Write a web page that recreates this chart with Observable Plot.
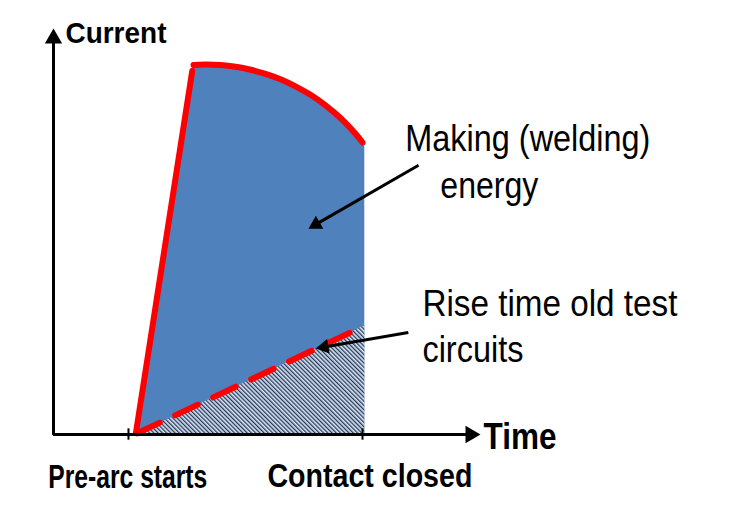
<!DOCTYPE html>
<html><head><meta charset="utf-8">
<script src="https://cdn.jsdelivr.net/npm/d3@7"></script>
<script src="https://cdn.jsdelivr.net/npm/@observablehq/plot@0.6"></script>
<style>html,body{margin:0;padding:0;background:#fff;} #chart svg{display:block;}</style>
</head><body>
<svg width="0" height="0" style="position:absolute">
  <defs>
    <pattern id="hatch" patternUnits="userSpaceOnUse" width="3" height="3" patternTransform="rotate(-45)">
      <rect width="3" height="3" fill="#dbe5f2"></rect>
      <rect width="1.3" height="3" fill="#22385a"></rect>
    </pattern>
  </defs>
</svg>
<div id="chart"></div>
<script>
// ---- data (arbitrary time / current units) ----
const riseTime = [19.3, 32.5];
const riseCurrent = [0.4, 89.6];
const arcTime = [32.79, 35.60, 39.11, 42.62, 46.14, 49.65, 53.16, 56.67, 60.19, 63.70, 67.21, 70.73, 72.37];
const arcCurrent = [91.03, 91.13, 90.99, 90.57, 89.85, 88.82, 87.49, 85.76, 83.67, 81.08, 77.96, 74.06, 71.92];
const contactTime = 72.9;
const contactCurrent = 71.2;
const oldTime = [19.4, 72.9];
const oldCurrent = [0, 26.8];
const dashTime = [19.6, 69.5];
const dashCurrent = [0.3, 25.1];
const tickTimes = [17.56, 72.37];
const tickLabels = ["Pre-arc starts", "Contact closed"];
const axisLabels = ["Current", "Time"];
const noteLabels = [["Making (welding)", "energy"], ["Rise time old test", "circuits"]];

// ---- layout ----
const W = 729, H = 520, ML = 53, MR = 249, MT = 28, MB = 86;
const X = d3.scaleLinear([0, 100], [ML, W - MR]);
const Y = d3.scaleLinear([0, 100], [H - MB, MT]);
const font = "'Liberation Sans', Arial, Helvetica, sans-serif";

const energy = [{t: oldTime[0], i: 0}]
  .concat(arcTime.map((t, k) => ({t, i: arcCurrent[k]})))
  .concat([{t: contactTime, i: contactCurrent}]);
const oldArea = oldTime.map((t, k) => ({t, i: oldCurrent[k]}));
const dash = dashTime.map((t, k) => ({t, i: dashCurrent[k]}));
const rise = riseTime.map((t, k) => ({t, i: riseCurrent[k]}));
const arc = arcTime.map((t, k) => ({t, i: arcCurrent[k]}));

function head(x0, y0, x1, y1, h) {
  const px0 = X(x0), py0 = Y(y0), px1 = X(x1), py1 = Y(y1);
  const dx = px1 - px0, dy = py1 - py0, L = Math.hypot(dx, dy);
  const ux = dx / L, uy = dy / L;
  const cx = px1 - ux * 2 * h, cy = py1 - uy * 2 * h;
  return {x: X.invert(cx), y: Y.invert(cy), rotate: Math.atan2(ux, -uy) * 180 / Math.PI, x0, y0};
}
const rOf = h => Math.sqrt(h * h * 3 * Math.sqrt(3) / Math.PI);

const axisHeads = [head(0, 0, 0, 100, 5), head(0, 0, 100, 0, 5)];
const notes = [
  {x0: 85.5, y0: 66.3, x1: 59.7, y1: 50.7},
  {x0: 83.1, y0: 25.1, x1: 61.4, y1: 21.2}
];
const noteHeads = notes.map(n => head(n.x0, n.y0, n.x1, n.y1, 4.3));

const widths = {
  "Current": 101, "Time": 73, "Pre-arc starts": 159, "Contact closed": 205,
  "Making (welding)": 245, "energy": 98, "Rise time old test": 255, "circuits": 101
};

const txt = (s, x, y, size, weight, anchor) => Plot.text([s], {
  x: () => x, y: () => y, text: d => d, textAnchor: anchor, lineAnchor: "middle",
  fontSize: size, fontWeight: weight, fontFamily: font, fill: "black"
});

const chart = Plot.plot({
  width: W, height: H,
  marginLeft: ML, marginRight: MR, marginTop: MT, marginBottom: MB,
  x: {domain: [0, 100], axis: null},
  y: {domain: [0, 100], axis: null},
  style: {background: "white", fontFamily: font, overflow: "visible"},
  marks: [
    Plot.areaY(energy, {x: "t", y: "i", fill: "#4f81bd"}),
    Plot.areaY(oldArea, {x: "t", y: "i", fill: "url(#hatch)"}),
    Plot.line(dash, {x: "t", y: "i", stroke: "#ff0000", strokeWidth: 6, strokeDasharray: "25,17"}),
    Plot.line(rise, {x: "t", y: "i", stroke: "#ff0000", strokeWidth: 6}),
    Plot.line(arc, {x: "t", y: "i", stroke: "#ff0000", strokeWidth: 6, curve: "catmull-rom"}),
    Plot.line([[0, axisHeads[0].y], [0, 0], [axisHeads[1].x, 0]], {stroke: "black", strokeWidth: 3, strokeLinejoin: "miter"}),
    Plot.ruleX(tickTimes, {x: d => d, y1: -1.4, y2: 1.4, stroke: "black", strokeWidth: 2}),
    Plot.dot(axisHeads, {x: "x", y: "y", rotate: "rotate", symbol: "triangle", r: rOf(5), fill: "black", stroke: "none"}),
    Plot.link(noteHeads, {x1: "x0", y1: "y0", x2: "x", y2: "y", stroke: "black", strokeWidth: 3}),
    Plot.dot(noteHeads, {x: "x", y: "y", rotate: "rotate", symbol: "triangle", r: rOf(4.3), fill: "black", stroke: "none"}),
    txt(axisLabels[0], 2.8, 98.8, 30, "bold", "start"),
    txt(axisLabels[1], 100.7, -0.6, 37, "bold", "start"),
    txt(tickLabels[0], 17.4, -10.4, 34, "bold", "middle"),
    txt(tickLabels[1], 74.1, -10.2, 34, "bold", "middle"),
    txt(noteLabels[0][0], 82.4, 72.8, 37, "normal", "start"),
    txt(noteLabels[0][1], 90.6, 61.1, 37, "normal", "start"),
    txt(noteLabels[1][0], 86.4, 32.1, 37, "normal", "start"),
    txt(noteLabels[1][1], 86.4, 20.7, 37, "normal", "start")
  ]
});

chart.querySelectorAll("text").forEach(el => {
  const w = widths[el.textContent.trim()];
  if (w) { el.setAttribute("textLength", w); el.setAttribute("lengthAdjust", "spacingAndGlyphs"); }
});
document.getElementById("chart").appendChild(chart);
</script>
</body></html>
